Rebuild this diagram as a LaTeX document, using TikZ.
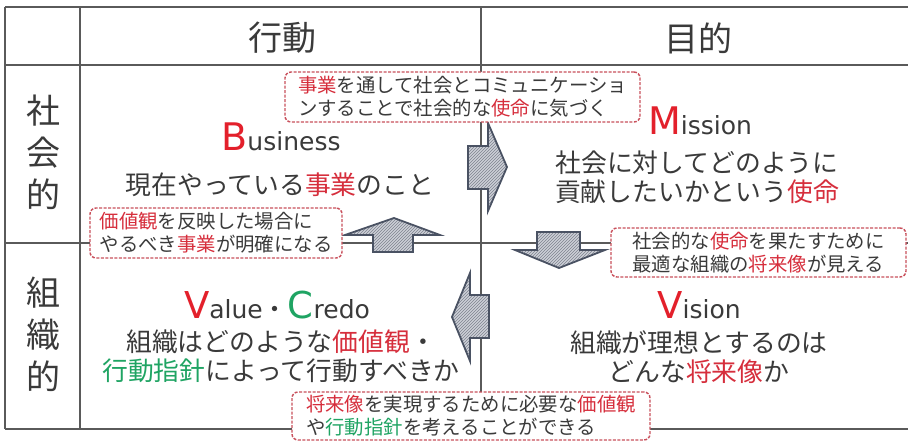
\documentclass[tikz,border=0pt]{standalone}
\usepackage{fontspec}
\setmainfont{Noto Sans CJK JP}
\newfontfamily\lat{DejaVu Sans}
\usetikzlibrary{patterns}
\definecolor{txt}{HTML}{3A3A3A}
\definecolor{rd}{HTML}{E3202B}
\definecolor{krd}{HTML}{D62E3C}
\definecolor{gn}{HTML}{1FA463}
\definecolor{ln}{HTML}{5A5A5A}
\definecolor{cb}{HTML}{C9505C}
\definecolor{af}{HTML}{CDD0D8}
\definecolor{ah}{HTML}{7D828E}
\definecolor{ao}{HTML}{4A5263}
\newcommand{\kr}[1]{{\color{krd}#1}}
\newcommand{\kg}[1]{{\color{gn}#1}}
\tikzset{
  tbl/.style={draw=ln, line width=1.3pt},
  arrowshape/.style={preaction={fill=af}, pattern=north east lines, pattern color=ah, draw=ao, line width=1.8pt, line join=miter},
  callout/.style={draw=cb, fill=white, line width=1.4pt, dash pattern=on 3pt off 1.5pt, rounded corners=6pt, align=left, text=txt, inner sep=0pt, font=\fontsize{19.4}{23}\selectfont},
  body/.style={align=center, text=txt, inner sep=0pt, font=\fontsize{25.8}{29}\selectfont},
  title/.style={anchor=base, text=txt, inner sep=0pt, font=\lat\fontsize{25}{25}\selectfont},
  side/.style={align=center, text=txt, inner sep=0pt, font=\fontsize{34}{42}\selectfont},
  head/.style={text=txt, inner sep=0pt, font=\fontsize{34}{34}\selectfont}
}
\begin{document}
\begin{tikzpicture}[x=1pt,y=-1pt]
\useasboundingbox (0,0) rectangle (908,441);
\fill[white] (0,0) rectangle (908,441);
% table
\coordinate (tl) at (5,7);
\coordinate (tr) at (908,7);
\coordinate (bl) at (5,429);
\coordinate (br) at (908,429);
\draw[tbl] (tl) -- (tr);
\draw[tbl] (bl) -- (br);
\draw[tbl] (tl) -- (bl);
\draw[tbl] (5,65) -- (908,65);
\draw[tbl] (5,243) -- (908,243);
\draw[tbl] (80,7) -- (80,429);
\draw[tbl] (481,7) -- (481,429);
% headers
\node[head] (h1) at (282,38) {行動};
\node[head] (h2) at (698,38) {目的};
\node[side] (s1) at (43,152) {社\\会\\的};
\node[side] (s2) at (43,334) {組\\織\\的};
% arrows
\path[arrowshape] (468,146) -- (488,146) -- (488,123) -- (507,167) -- (488,211) -- (488,189) -- (468,189) -- cycle;
\path[arrowshape] (489,295) -- (470,295) -- (470,273) -- (452,317) -- (470,361) -- (470,338) -- (489,338) -- cycle;
\path[arrowshape] (373,252) -- (373,235) -- (345,235) -- (394,218) -- (440,235) -- (413,235) -- (413,252) -- cycle;
\path[arrowshape] (537,232) -- (580,232) -- (580,250) -- (605,250) -- (559,268) -- (515,250) -- (537,250) -- cycle;
% callouts
\node[callout, minimum width=355pt, minimum height=50pt] (c1) at (462.5,97) {\kr{事業}を通して社会とコミュニケーショ\\ンすることで社会的な\kr{使命}に気づく};
\node[callout, minimum width=252pt, minimum height=50pt] (c2) at (216,233) {\kr{価値観}を反映した場合に\\やるべき\kr{事業}が明確になる};
\node[callout, minimum width=295pt, minimum height=49pt] (c3) at (758.5,252.5) {社会的な\kr{使命}を果たすために\\最適な組織の\kr{将来像}が見える};
\node[callout, minimum width=358pt, minimum height=48pt] (c4) at (471,416) {\kr{将来像}を実現するために必要な\kr{価値観}\\や\kg{行動指針}を考えることができる};
% quadrant titles
\node[title] (tB) at (281,150) {{\fontsize{38}{38}\selectfont\color{rd}B}usiness};
\node[title] (tM) at (700,135) {{\fontsize{38}{38}\selectfont\color{rd}M}ission};
\node[title] (tV) at (277,318) {{\fontsize{37}{37}\selectfont\color{rd}V}alue{\fontspec{Noto Sans CJK JP}・}{\fontsize{37}{37}\selectfont\color{gn}C}redo};
\node[title] (tVi) at (699,318) {{\fontsize{37}{37}\selectfont\color{rd}V}ision};
% quadrant bodies
\node[body] (bB) at (280,185) {現在やっている\kr{事業}のこと};
\node[body] (bM) at (697,177.5) {社会に対してどのように\\貢献したいかという\kr{使命}};
\node[body] (bV) at (281,356.5) {組織はどのような\kr{価値観}・\\\kg{行動指針}によって行動すべきか};
\node[body] (bVi) at (699,357.5) {組織が理想とするのは\\どんな\kr{将来像}か};
\end{tikzpicture}
\end{document}
